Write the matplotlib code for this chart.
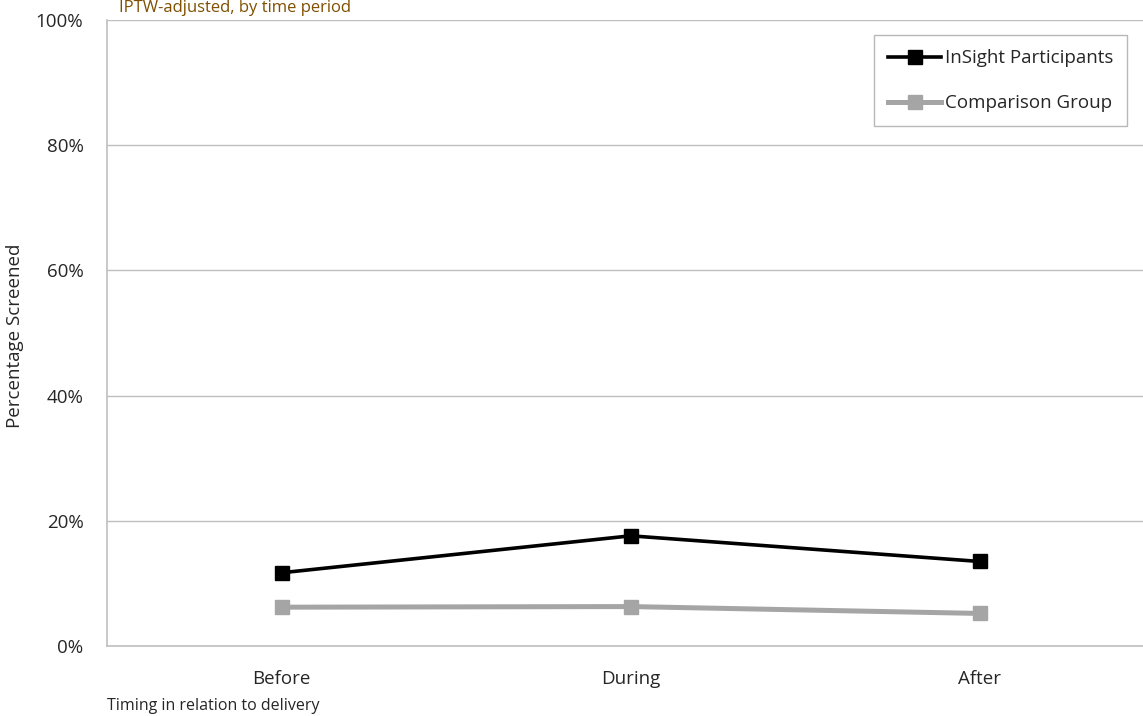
import matplotlib
matplotlib.use("Agg")
import matplotlib.pyplot as plt
from matplotlib.ticker import FuncFormatter

categories = ["Before", "During", "After"]
insight = [11.7, 17.6, 13.5]
comparison = [6.2, 6.3, 5.2]
y_ticks = [0, 20, 40, 60, 80, 100]

plt.rcParams['font.family'] = ['Open Sans', 'DejaVu Sans']

fig = plt.figure(figsize=(11.43, 7.16), dpi=100)
ax = fig.add_axes([107/1143, 1 - 646/716, 1 - 107/1143, (646 - 20)/716])

x = list(range(len(categories)))
ax.plot(x, insight, color='black', lw=2.6, marker='s', ms=10, label='InSight Participants', zorder=4)
ax.plot(x, comparison, color='#A5A5A5', lw=3.6, marker='s', ms=10, label='Comparison Group', zorder=3)

ax.set_xlim(-0.5, 2.467)
ax.set_ylim(0, 100)
ax.set_yticks(y_ticks)
ax.yaxis.set_major_formatter(FuncFormatter(lambda v, p: f"{int(v)}%"))
ax.set_xticks(x)
ax.set_xticklabels(categories)
ax.tick_params(axis='both', length=0, labelsize=13.5, colors='#262626')
ax.tick_params(axis='x', pad=17)
ax.tick_params(axis='y', pad=17)
ax.grid(axis='y', color='#BFBFBF', lw=1)
ax.set_axisbelow(True)
for s in ['top', 'right']:
    ax.spines[s].set_visible(False)
ax.spines['left'].set_color('#BFBFBF')
ax.spines['bottom'].set_color('#BFBFBF')
ax.spines['left'].set_linewidth(1.2)
ax.spines['bottom'].set_linewidth(1.2)

fig.text(15/1143, 1 - 336/716, "Percentage Screened", rotation=90, va='center', ha='center',
         fontsize=13.5, color='#262626')
fig.text(107/1143, 1 - 706/716, "Timing in relation to delivery", ha='left', va='center',
         fontsize=11.5, color='#262626')
fig.text(119/1143, 1.0, "IPTW-adjusted, by time period", ha='left', va='top',
         fontsize=12, color='#7F4F00')

leg = ax.legend(loc='upper right', bbox_to_anchor=((1127 - 107)/(1143 - 107), 1 - 15/626),
                fontsize=13.5, frameon=True, fancybox=False, edgecolor='#A6A6A6',
                handlelength=2.8, handletextpad=0.2, labelspacing=1.45, borderpad=0.75,
                borderaxespad=0.0, labelcolor='#262626')
leg.get_frame().set_linewidth(1)

fig.savefig("out.png", dpi=100)
